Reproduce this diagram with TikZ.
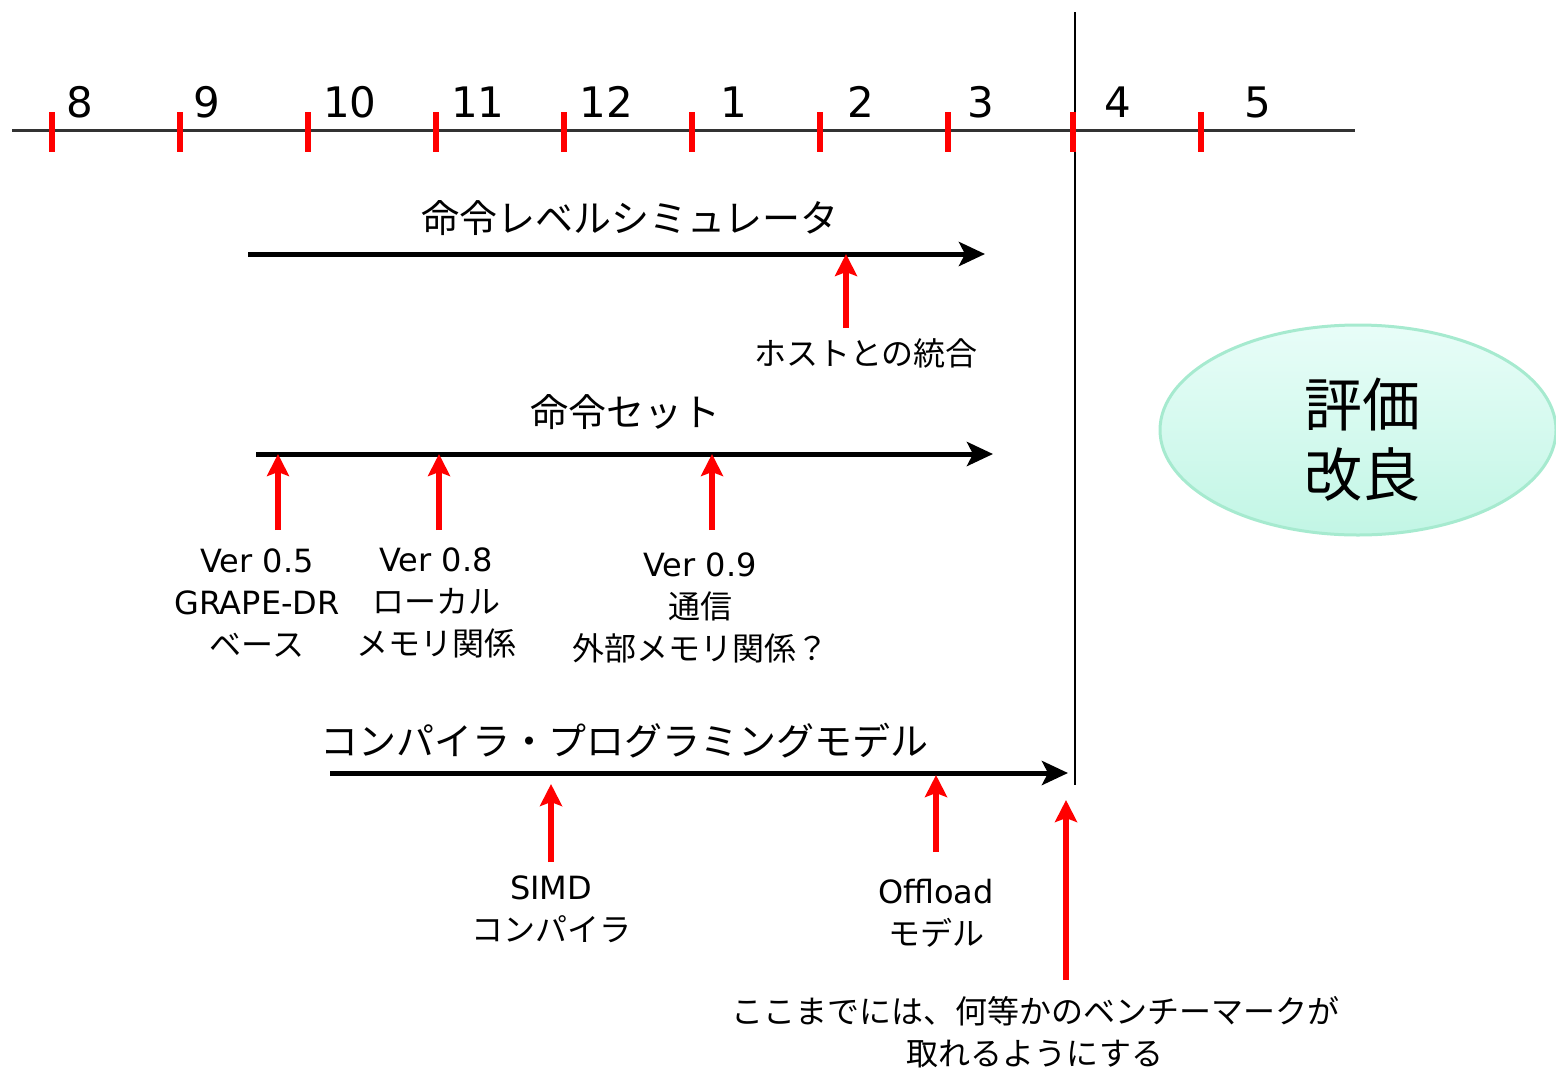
\documentclass[tikz,border=0pt]{standalone}
\usepackage{fontspec}
\setmainfont{Noto Sans CJK JP}
\newfontfamily\lat{DejaVu Sans}
\usetikzlibrary{arrows.meta,shapes.geometric}
\definecolor{ellfillA}{HTML}{E8FDF8}
\definecolor{ellfillB}{HTML}{C2F6E5}
\definecolor{ellborder}{HTML}{A6EACF}
\begin{document}
\begin{tikzpicture}[x=0.5pt,y=-0.5pt,
  axis/.style={line width=1.5pt,draw=black!80},
  ticky/.style={line width=3pt,draw=red},
  num/.style={font=\lat\fontsize{21}{21}\selectfont,inner sep=0pt,anchor=base},
  phase/.style={line width=2.5pt,-{Stealth[length=13pt,width=12pt,inset=3pt]}},
  ptr/.style={line width=3pt,red,-{Stealth[length=11pt,width=11pt,inset=2pt]}},
  ttl/.style={font=\fontsize{19}{19}\selectfont,inner sep=0pt},
  lbl/.style={font=\fontsize{16}{21}\selectfont,align=center,inner sep=0pt},
]
\useasboundingbox (0,0) rectangle (1556,1071);

% timeline axis
\coordinate (axL) at (12,130);
\coordinate (axR) at (1355,130);
\draw[axis] (axL) -- (axR);

% deadline line
\coordinate (dlT) at (1075,12);
\coordinate (dlB) at (1075,785);
\draw[line width=1pt] (dlT) -- (dlB);

% ticks and month labels
\foreach \x/\lx/\m [count=\i] in {52/80/8,180/207/9,308/350/10,436/478/11,564/606/12,692/734/1,820/861/2,948/981/3,1073/1118/4,1201/1258/5}{
  \coordinate (t\i a) at (\x,112);
  \coordinate (t\i b) at (\x,152);
  \draw[ticky] (t\i a) -- (t\i b);
  \node[num] (m\i) at (\lx,117) {\m};
}

% phase 1
\node[ttl] (p1) at (630,218) {命令レベルシミュレータ};
\coordinate (p1s) at (248,254);
\coordinate (p1e) at (985,254);
\draw[phase] (p1s) -- (p1e);
\coordinate (h1b) at (846,328);
\coordinate (h1t) at (846,254);
\draw[ptr] (h1b) -- (h1t);
\node[lbl] (h1) at (866,353) {ホストとの統合};

% phase 2
\node[ttl] (p2) at (625,412) {命令セット};
\coordinate (p2s) at (256,454);
\coordinate (p2e) at (993,454);
\draw[phase] (p2s) -- (p2e);
\foreach \x/\n in {278/a,439/b,712/c}{
  \coordinate (v\n b) at (\x,530);
  \coordinate (v\n t) at (\x,454);
  \draw[ptr] (v\n b) -- (v\n t);
}
\node[lbl] (va) at (257,603) {{\lat Ver 0.5}\\{\lat GRAPE-DR}\\ベース};
\node[lbl] (vb) at (436,603) {{\lat Ver 0.8}\\ローカル\\メモリ関係};
\node[lbl] (vc) at (700,608) {{\lat Ver 0.9}\\通信\\外部メモリ関係？};

% phase 3
\node[ttl] (p3) at (624,741) {コンパイラ・プログラミングモデル};
\coordinate (p3s) at (330,773);
\coordinate (p3e) at (1068,773);
\draw[phase] (p3s) -- (p3e);
\coordinate (sb) at (551,862);
\coordinate (st) at (551,784);
\draw[ptr] (sb) -- (st);
\coordinate (ob) at (936,852);
\coordinate (ot) at (936,775);
\draw[ptr] (ob) -- (ot);
\coordinate (bb) at (1066,980);
\coordinate (bt) at (1066,800);
\draw[ptr] (bb) -- (bt);
\node[lbl] (simd) at (551,909) {{\lat SIMD}\\コンパイラ};
\node[lbl] (off) at (936,913) {{\lat Offload}\\モデル};
\node[lbl] (bench) at (1035,1032) {ここまでには、何等かのベンチーマークが\\取れるようにする};

% evaluation ellipse
\node[ellipse,draw=ellborder,line width=1.5pt,top color=ellfillA,bottom color=ellfillB,
  minimum width=198pt,minimum height=105pt,inner sep=0pt] (ev) at (1358,430) {};
\node[font=\fontsize{29}{35}\selectfont,align=center,inner sep=0pt] (evt) at (1362,440) {評価\\改良};
\end{tikzpicture}
\end{document}
